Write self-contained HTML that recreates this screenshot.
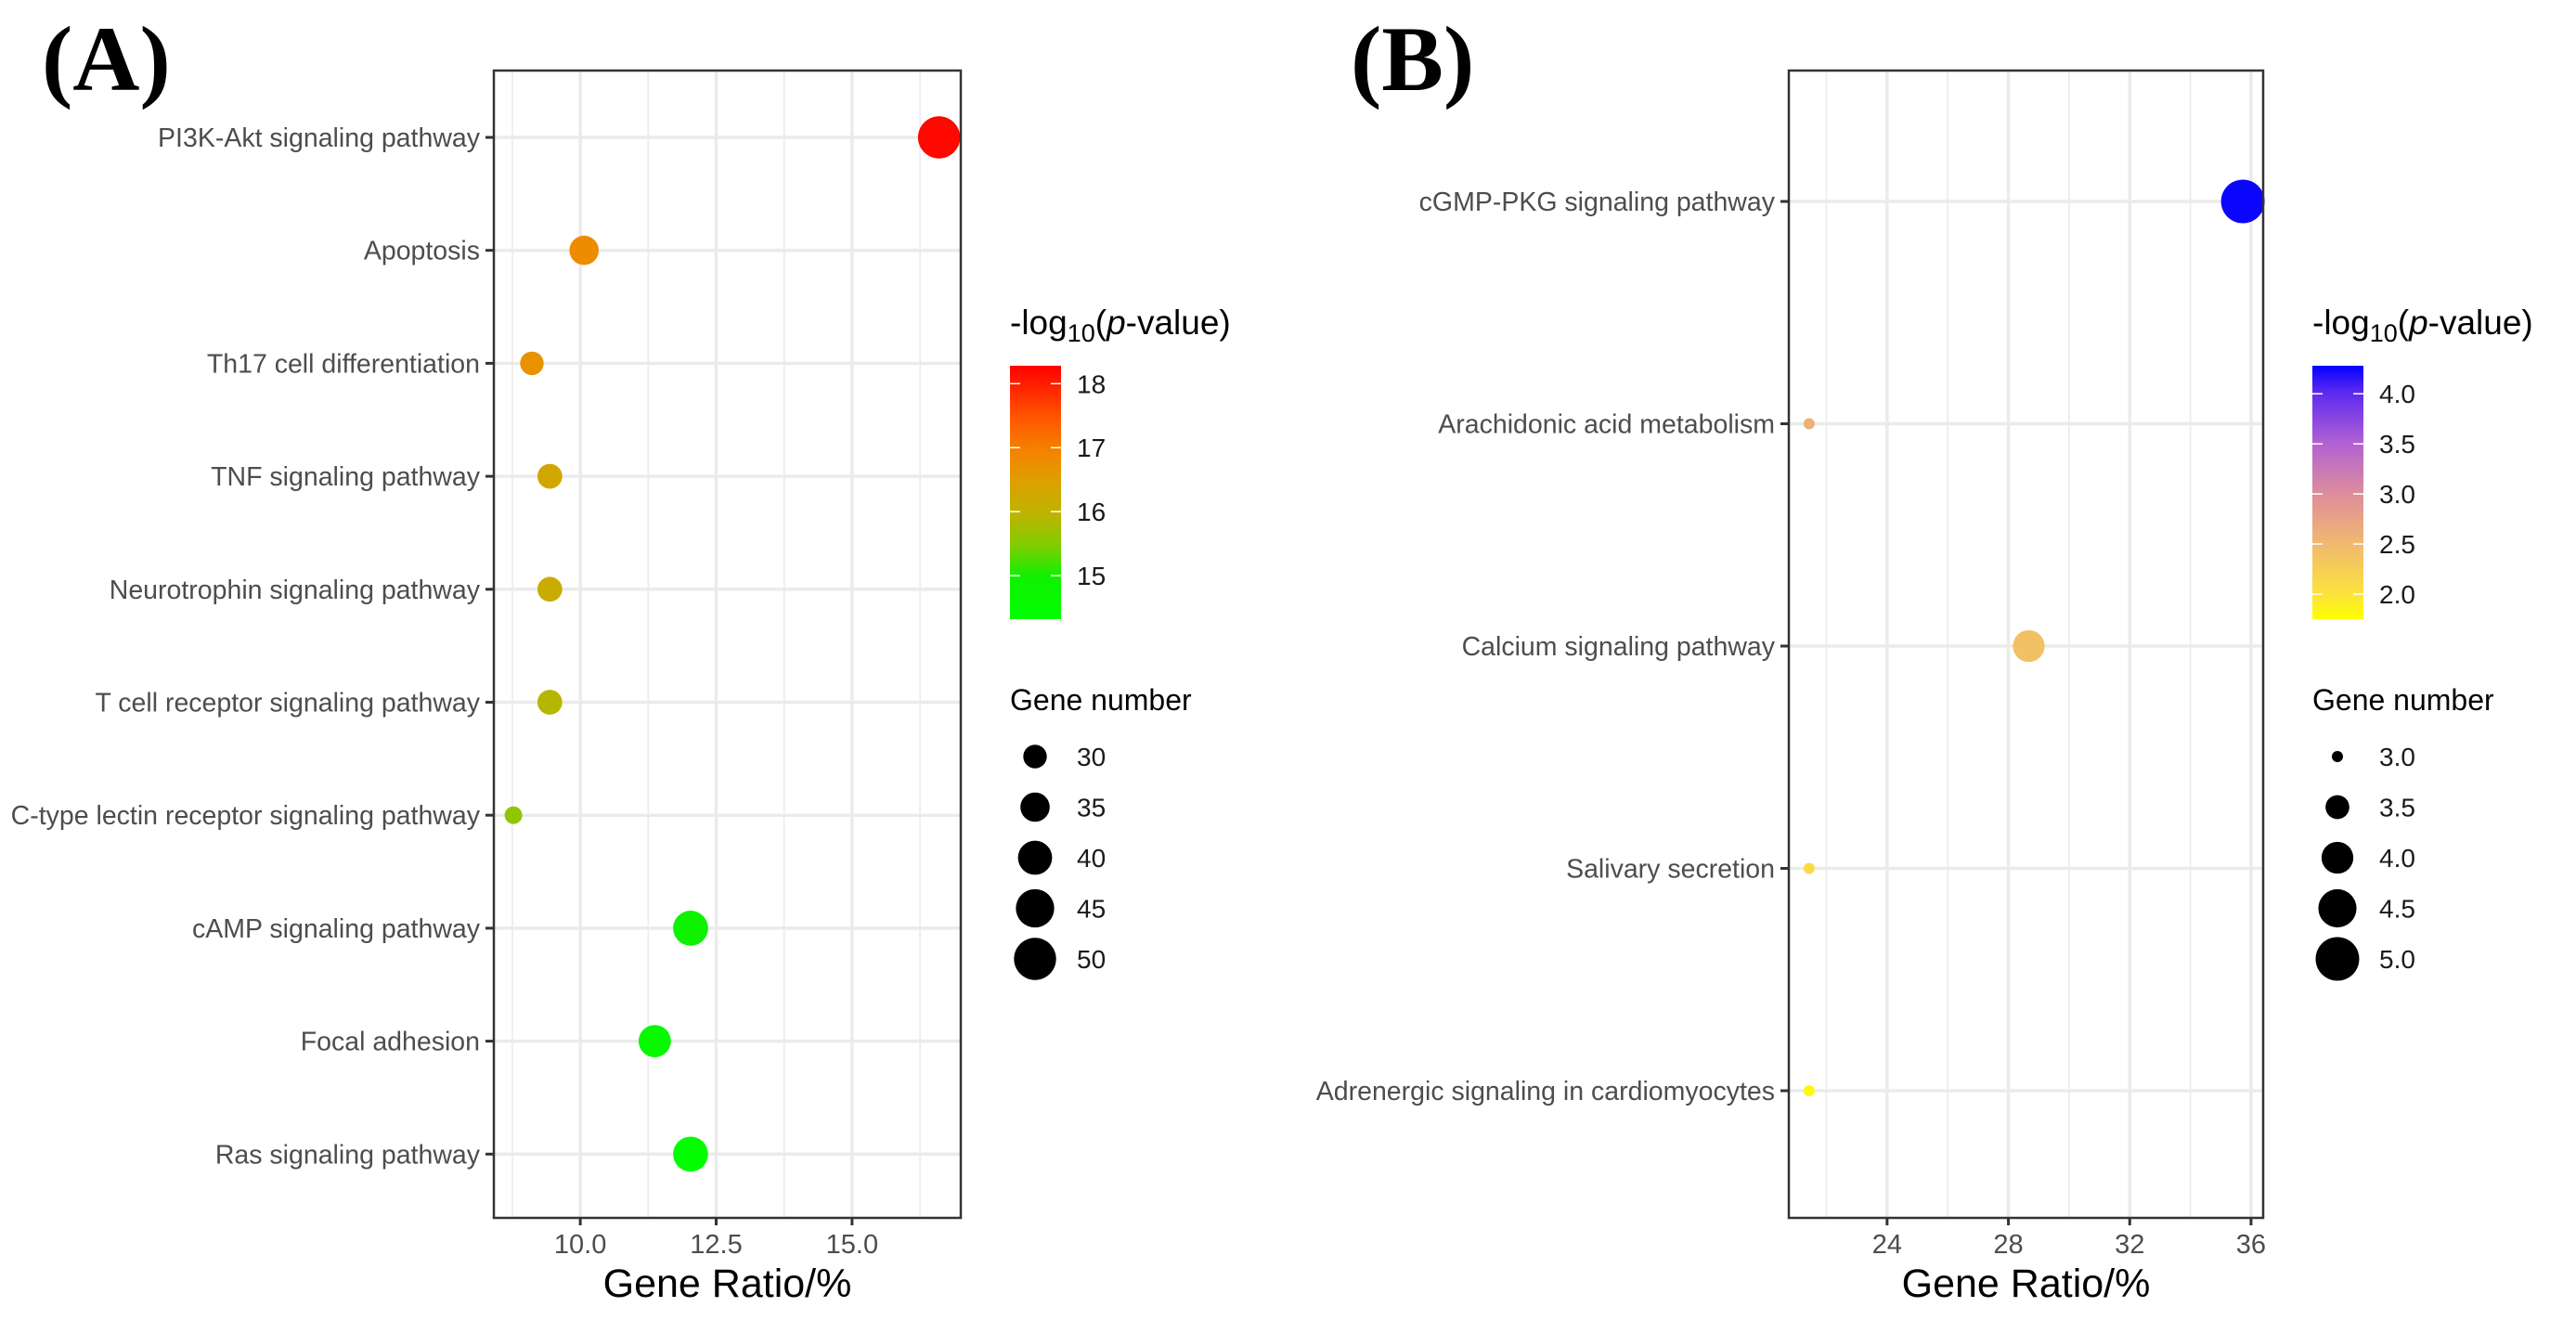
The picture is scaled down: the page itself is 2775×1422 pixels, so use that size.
<!DOCTYPE html>
<html><head><meta charset="utf-8"><style>
html,body{margin:0;padding:0;background:#fff;}
svg{display:block;}
text{font-family:"Liberation Sans",sans-serif;}
text.serif{font-family:"Liberation Serif",serif;}
</style></head><body>
<svg id="fig" width="2775" height="1422" viewBox="0 0 2775 1422" xmlns="http://www.w3.org/2000/svg">
<defs>
<linearGradient id="gradA" x1="0" y1="1" x2="0" y2="0">
<stop offset="0" stop-color="#00ff00"/><stop offset="0.17" stop-color="#10f000"/>
<stop offset="0.29" stop-color="#80cc00"/><stop offset="0.41" stop-color="#bcb400"/>
<stop offset="0.54" stop-color="#dca000"/><stop offset="0.66" stop-color="#f48400"/>
<stop offset="0.79" stop-color="#ff5800"/><stop offset="1" stop-color="#ff0000"/>
</linearGradient>
<linearGradient id="gradB" x1="0" y1="1" x2="0" y2="0">
<stop offset="0" stop-color="#ffff00"/><stop offset="0.1" stop-color="#fce23c"/>
<stop offset="0.3" stop-color="#f0b870"/><stop offset="0.5" stop-color="#dc8c9c"/>
<stop offset="0.7" stop-color="#b060d4"/><stop offset="0.9" stop-color="#5a28f0"/>
<stop offset="1" stop-color="#0000ff"/>
</linearGradient>
</defs>
<g id="A"></g>
<g id="B"></g>
</svg>
<script>
// Panel A data
const catsA = ["PI3K-Akt signaling pathway","Apoptosis","Th17 cell differentiation","TNF signaling pathway","Neurotrophin signaling pathway","T cell receptor signaling pathway","C-type lectin receptor signaling pathway","cAMP signaling pathway","Focal adhesion","Ras signaling pathway"];
const ratioA = [16.6, 10.07, 9.11, 9.44, 9.44, 9.44, 8.77, 12.03, 11.37, 12.03];
const pvalA = [18.2, 16.8, 16.7, 16.3, 16.15, 15.9, 15.6, 14.9, 14.6, 14.4];
const countA = [50, 35, 30, 31, 31, 31, 26, 41, 38, 41];
const xTicksA = [10.0, 12.5, 15.0];
const xTickLabelsA = ["10.0","12.5","15.0"];
const cTicksA = [18, 17, 16, 15];
const sizeBreaksA = [30, 35, 40, 45, 50];
// Panel B data
const catsB = ["cGMP-PKG signaling pathway","Arachidonic acid metabolism","Calcium signaling pathway","Salivary secretion","Adrenergic signaling in cardiomyocytes"];
const ratioB = [35.73, 21.43, 28.67, 21.43, 21.43];
const pvalB = [4.25, 2.6, 2.4, 2.1, 1.8];
const countB = [5, 3, 4, 3, 3];
const xTicksB = [24, 28, 32, 36];
const xTickLabelsB = ["24","28","32","36"];
const cTicksB = [4.0, 3.5, 3.0, 2.5, 2.0];
const cTickLabelsB = ["4.0","3.5","3.0","2.5","2.0"];
const sizeBreaksB = [3.0, 3.5, 4.0, 4.5, 5.0];
const sizeLabelsB = ["3.0","3.5","4.0","4.5","5.0"];

const NS = "http://www.w3.org/2000/svg";
function mk(parent, tag, attrs, txt){
  const e = document.createElementNS(NS, tag);
  for (const k in attrs) e.setAttribute(k, attrs[k]);
  if (txt !== undefined) e.textContent = txt;
  parent.appendChild(e);
  return e;
}
function lerp(a,b,t){return a+(b-a)*t;}
function hex(c){return [parseInt(c.slice(1,3),16),parseInt(c.slice(3,5),16),parseInt(c.slice(5,7),16)];}
function colorAt(stops, t){
  t = Math.max(0, Math.min(1, t));
  for (let i=0;i<stops.length-1;i++){
    if (t <= stops[i+1][0]){
      const u = (t-stops[i][0])/(stops[i+1][0]-stops[i][0]);
      const a = hex(stops[i][1]), b = hex(stops[i+1][1]);
      return "rgb("+a.map((v,j)=>Math.round(lerp(v,b[j],u))).join(",")+")";
    }
  }
  return stops[stops.length-1][1];
}
const stopsA = [[0,"#00ff00"],[0.17,"#10f000"],[0.29,"#80cc00"],[0.41,"#bcb400"],[0.54,"#dca000"],[0.66,"#f48400"],[0.79,"#ff5800"],[1,"#ff0000"]];
const stopsB = [[0,"#ffff00"],[0.1,"#fce23c"],[0.3,"#f0b870"],[0.5,"#dc8c9c"],[0.7,"#b060d4"],[0.9,"#5a28f0"],[1,"#0000ff"]];

function panel(cfg){
  const g = document.getElementById(cfg.id);
  const {L,R,T,B} = cfg.box;
  const xs = v => L + (v - cfg.xmin)/(cfg.xmax - cfg.xmin)*(R-L);
  const ys = i => cfg.y0 + i*cfg.dy;
  const cs = v => cfg.cBot - (v - cfg.cmin)/(cfg.cmax - cfg.cmin)*(cfg.cBot - cfg.cTop);
  const rs = cfg.rs;
  const lt = mk(g,"text",{x:cfg.letterX,y:97,"class":"serif","font-weight":"bold","font-size":100,fill:"#000"},cfg.letter);
  
  
  const bg = mk(g,"rect",{x:L,y:T,width:R-L,height:B-T,fill:"#fff"});
  
  
  for (let i=0;i<=cfg.xTicks.length;i++){
    const step = cfg.xTicks[1]-cfg.xTicks[0];
    const v = cfg.xTicks[0] - step/2 + i*step;
    if (v>cfg.xmin && v<cfg.xmax){
      const ln = mk(g,"line",{x1:xs(v),x2:xs(v),y1:T,y2:B,stroke:"#ededed","stroke-width":1.8});
      
      
    }
  }
  cfg.xTicks.forEach((v,i)=>{
    const ln = mk(g,"line",{x1:xs(v),x2:xs(v),y1:T,y2:B,stroke:"#ebebeb","stroke-width":3.5});
    
    
    const tk = mk(g,"line",{x1:xs(v),x2:xs(v),y1:B,y2:B+8,stroke:"#333","stroke-width":3});
    
    
    const tl = mk(g,"text",{x:xs(v),y:1350,"text-anchor":"middle","font-size":29,fill:"#4d4d4d"},cfg.xLabels[i]);
    
    
  });
  cfg.cats.forEach((c,i)=>{
    const ln = mk(g,"line",{x1:L,x2:R,y1:ys(i),y2:ys(i),stroke:"#ebebeb","stroke-width":3.5});
    
    
    const tk = mk(g,"line",{x1:L-9,x2:L,y1:ys(i),y2:ys(i),stroke:"#333","stroke-width":3});
    
    
    const tl = mk(g,"text",{x:L-15,y:ys(i)+10,"text-anchor":"end","font-size":28.5,fill:"#4d4d4d"},c);
    
    
  });
  cfg.cats.forEach((c,i)=>{
    const t = (cfg.pv[i]-cfg.cmin)/(cfg.cmax-cfg.cmin);
    const pt = mk(g,"circle",{cx:xs(cfg.ratio[i]),cy:ys(i),r:rs(cfg.count[i]),fill:colorAt(cfg.stops,t)});
    
    
  });
  const fr = mk(g,"rect",{x:L,y:T,width:R-L,height:B-T,fill:"none",stroke:"#333","stroke-width":2.5});
  
  
  const xt = mk(g,"text",{x:(L+R)/2,y:1397,"text-anchor":"middle","font-size":43,fill:"#000"},"Gene Ratio/%");
  
  
  const ct = mk(g,"text",{x:cfg.legX,y:360,"font-size":37,fill:"#000"});
  
  
  mk(ct,"tspan",{},"-log");
  mk(ct,"tspan",{"font-size":27,dy:8},"10");
  mk(ct,"tspan",{dy:-8},"(");
  mk(ct,"tspan",{"font-style":"italic"},"p");
  mk(ct,"tspan",{},"-value)");
  const cb = mk(g,"rect",{x:cfg.legX,y:cfg.cTop,width:55,height:cfg.cBot-cfg.cTop,fill:cfg.grad});
  
  
  cfg.cTicks.forEach((v,i)=>{
    const y = cs(v);
    const a = mk(g,"line",{x1:cfg.legX,x2:cfg.legX+11,y1:y,y2:y,stroke:"#fff","stroke-width":1.5});
    
    
    const b = mk(g,"line",{x1:cfg.legX+44,x2:cfg.legX+55,y1:y,y2:y,stroke:"#fff","stroke-width":1.5});
    
    
    const tl = mk(g,"text",{x:cfg.legX+72,y:y+10,"font-size":28,fill:"#1a1a1a"},cfg.cLabels[i]);
    
    
  });
  const st = mk(g,"text",{x:cfg.legX,y:765,"font-size":32,fill:"#000"},"Gene number");
  
  
  cfg.sizes.forEach((v,i)=>{
    const y = 815 + i*54.5;
    const d = mk(g,"circle",{cx:cfg.legX+27,cy:y,r:rs(v),fill:"#000"});
    
    
    const tl = mk(g,"text",{x:cfg.legX+72,y:y+10,"font-size":28,fill:"#1a1a1a"},cfg.sizeLabels[i]);
    
    
  });
}

panel({id:"A",letter:"(A)",letterX:45,box:{L:532,R:1035,T:76,B:1312},
  xmin:8.41,xmax:17.0,y0:148,dy:121.7,cats:catsA,ratio:ratioA,pv:pvalA,count:countA,
  xTicks:xTicksA,xLabels:xTickLabelsA,cmin:14.32,cmax:18.28,cTop:394,cBot:667,
  cTicks:cTicksA,cLabels:cTicksA.map(String),grad:"url(#gradA)",stops:stopsA,legX:1088,
  sizes:sizeBreaksA,sizeLabels:sizeBreaksA.map(String),
  rs:v=>Math.sqrt(Math.max(20,161+(v-30)*17.7))});
panel({id:"B",letter:"(B)",letterX:1455,box:{L:1927,R:2438,T:76,B:1312},
  xmin:20.76,xmax:36.4,y0:217,dy:239.5,cats:catsB,ratio:ratioB,pv:pvalB,count:countB,
  xTicks:xTicksB,xLabels:xTickLabelsB,cmin:1.75,cmax:4.28,cTop:394,cBot:667,
  cTicks:cTicksB,cLabels:cTickLabelsB,grad:"url(#gradB)",stops:stopsB,legX:2491,
  sizes:sizeBreaksB,sizeLabels:sizeLabelsB,
  rs:v=>Math.sqrt(Math.max(20,36+(v-3)*258))});
</script>
</body></html>
